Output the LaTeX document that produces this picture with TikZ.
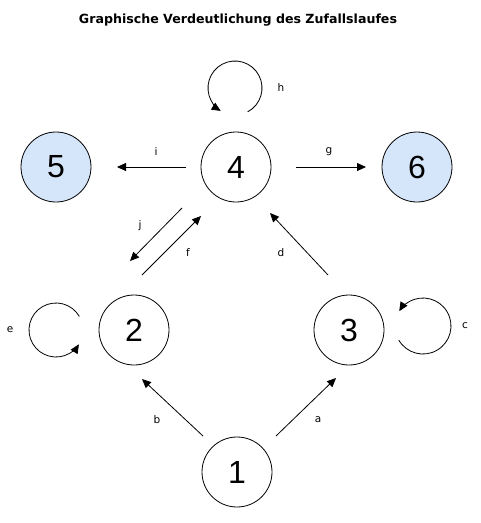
\documentclass[tikz,border=0pt]{standalone}
\usepackage{fontspec}
\setmainfont{Liberation Sans}
\newfontfamily\titlefont{DejaVu Sans}
\usetikzlibrary{arrows.meta}
\definecolor{stateblue}{RGB}{214,230,250}
\begin{document}
\begin{tikzpicture}[x=1pt,y=1pt,
  state/.style={circle,draw=black,line width=0.8pt,minimum size=70pt,inner sep=0pt,font=\fontsize{32}{32}\selectfont},
  endstate/.style={state,fill=stateblue},
  edge/.style={line width=0.8pt,-{Triangle[length=9pt,width=8pt]}},
  lbl/.style={font=\titlefont\fontsize{10.5}{10.5}\selectfont}]
\useasboundingbox (0,0) rectangle (481,-523);
\node[font=\titlefont\bfseries\fontsize{12.6}{14}\selectfont] (title) at (238,-20) {Graphische Verdeutlichung des Zufallslaufes};
\node[endstate] (n5) at (56,-167) {5};
\node[state] (n4) at (236,-167) {4};
\node[endstate] (n6) at (417,-167) {6};
\node[state] (n2) at (134,-330) {2};
\node[state] (n3) at (349,-330) {3};
\node[state] (n1) at (237,-472) {1};
% loops
\draw[edge] ([shift={(-62:27)}]235,-88) arc[start angle=-62,end angle=238,radius=27];
\draw[edge] ([shift={(30:27)}]56,-330) arc[start angle=30,end angle=328,radius=27];
\draw[edge] ([shift={(210:28)}]423,-326) arc[start angle=210,end angle=508,radius=28];
% straight arrows
\coordinate (i1) at (186,-167); \coordinate (i2) at (117,-167);
\coordinate (g1) at (296,-167); \coordinate (g2) at (366,-167);
\coordinate (j1) at (182,-208); \coordinate (j2) at (130,-261);
\coordinate (f1) at (142,-275); \coordinate (f2) at (201,-216);
\coordinate (d1) at (328,-275); \coordinate (d2) at (270,-213);
\coordinate (b1) at (203,-436); \coordinate (b2) at (142,-379);
\coordinate (a1) at (276,-436); \coordinate (a2) at (336,-378);
\draw[edge] (i1) -- (i2);
\draw[edge] (g1) -- (g2);
\draw[edge] (j1) -- (j2);
\draw[edge] (f1) -- (f2);
\draw[edge] (d1) -- (d2);
\draw[edge] (b1) -- (b2);
\draw[edge] (a1) -- (a2);
% labels
\node[lbl] (lh) at (281,-88) {h};
\node[lbl] (li) at (156,-152) {i};
\node[lbl] (lg) at (329,-152) {g};
\node[lbl] (lj) at (140,-226) {j};
\node[lbl] (lf) at (188,-253) {f};
\node[lbl] (ld) at (281,-253) {d};
\node[lbl] (le) at (10,-330) {e};
\node[lbl] (lc) at (465,-326) {c};
\node[lbl] (lb) at (157,-420) {b};
\node[lbl] (la) at (318,-420) {a};
\end{tikzpicture}
\end{document}
